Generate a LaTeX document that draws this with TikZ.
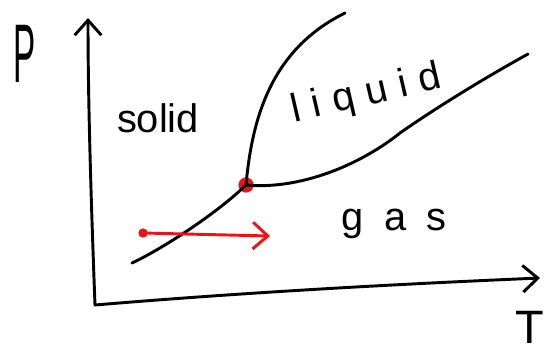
\documentclass[tikz,border=0pt]{standalone}
\usepackage{fontspec}
\setmainfont{Liberation Sans}
\usetikzlibrary{arrows.meta}
\definecolor{dotred}{RGB}{235,20,20}

\tikzset{
  pen/.style={line width=2.5pt, line cap=round, line join=round},
  redpen/.style={pen, dotred},
  barb/.style={-{Straight Barb[length=4.5mm, width=8mm, line width=2.5pt]}},
  phase/.style={font=\fontsize{34}{36}\selectfont, inner sep=0pt, anchor=base},
  axislabel/.style={inner sep=0pt, anchor=base}
}

\begin{document}
\begin{tikzpicture}[x=0.03cm, y=-0.03cm]
    %% pixel grid of the sketch: x in [0,555], y in [0,356] downwards
    \useasboundingbox (0,0) rectangle (555,356);

    % ---- AXES ----
    \coordinate (origin) at (95,305);
    \coordinate (ptop)   at (88,18);
    \coordinate (tend)   at (540,278);
    \draw[pen, barb] (origin) .. controls (91,200) and (88,100) .. (ptop);
    \draw[pen, barb] (origin) .. controls (250,292) and (400,284) .. (tend);
    \node[axislabel, font=\fontsize{71}{71}\selectfont, xscale=0.4] (plabel) at (25,82) {P};
    \node[axislabel, font=\fontsize{40}{40}\selectfont] (tlabel) at (530,343) {T};

    % ---- TRIPLE POINT ----
    \node[circle, fill=dotred, inner sep=0pt, minimum size=13pt] (triple) at (246,185) {};

    % ---- PHASE BOUNDARIES ----
    \coordinate (subl) at (132,263);
    \coordinate (melt) at (345,13);
    \coordinate (vap)  at (528,54);
    \draw[pen] (subl) .. controls (160,250) and (215,215) .. (triple.center);
    \draw[pen] (triple.center) .. controls (252,120) and (270,50) .. (melt);
    \draw[pen] (triple.center) .. controls (300,190) and (360,165) .. (400,133)
      .. controls (440,105) and (490,75) .. (vap);

    % ---- PATH AT CONSTANT P ----
    \node[circle, fill=dotred, inner sep=0pt, minimum size=8pt] (start) at (143,233) {};
    \coordinate (stop) at (270,236);
    \draw[redpen, barb] (start) -- (stop);

    % ---- PHASE LABELS ----
    \node[phase] (solid) at (158,132) {solid};
    \node[phase, rotate=13] (liquid) at (369,105) {\addfontfeatures{LetterSpace=30}liquid};
    \node[phase] (gas) at (394,230) {\addfontfeatures{LetterSpace=50}gas};

  \end{tikzpicture}
\end{document}
